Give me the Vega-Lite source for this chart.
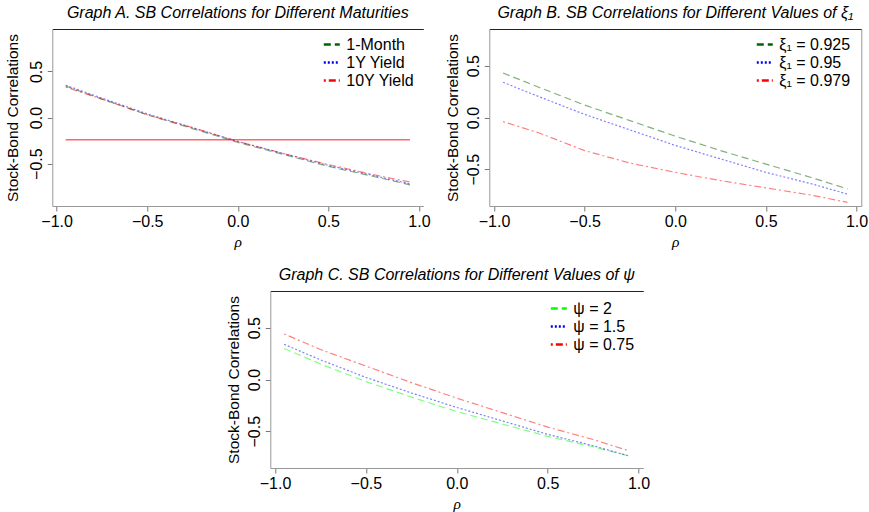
{
  "$schema": "https://vega.github.io/schema/vega-lite/v6.json",
  "padding": {"left": 5, "top": 5, "right": 0, "bottom": 0},
  "config": {
    "view": {"stroke": null},
    "font": "Liberation Sans",
    "axis": {"grid": false, "labelFont": "Liberation Sans", "labelFontSize": 16, "labelColor": "#000", "tickColor": "#777", "domainColor": "#999", "tickSize": 5, "titleFont": "Liberation Sans", "titleFontSize": 15.5, "titleFontWeight": "normal", "titleColor": "#000"},
    "title": {"font": "Liberation Sans", "fontStyle": "italic", "fontWeight": "normal", "fontSize": 16, "color": "#000", "offset": 8, "anchor": "middle"},
    "legend": {"labelFont": "Liberation Sans", "labelFontSize": 16, "labelColor": "#000", "symbolType": "stroke", "symbolSize": 256, "symbolStrokeWidth": 2.5, "symbolOpacity": 1, "rowPadding": -1.5, "labelOffset": 5, "orient": "none", "title": null}
  },
  "datasets": {
    "A": [
      {"rho": -0.95, "corr": 0.34, "series": "1-Month"},
      {"rho": -0.75, "corr": 0.2, "series": "1-Month"},
      {"rho": -0.5, "corr": 0.03, "series": "1-Month"},
      {"rho": -0.25, "corr": -0.12, "series": "1-Month"},
      {"rho": 0, "corr": -0.27, "series": "1-Month"},
      {"rho": 0.25, "corr": -0.4, "series": "1-Month"},
      {"rho": 0.5, "corr": -0.53, "series": "1-Month"},
      {"rho": 0.75, "corr": -0.64, "series": "1-Month"},
      {"rho": 0.95, "corr": -0.73, "series": "1-Month"},
      {"rho": -0.95, "corr": 0.35, "series": "1Y Yield"},
      {"rho": -0.75, "corr": 0.21, "series": "1Y Yield"},
      {"rho": -0.5, "corr": 0.04, "series": "1Y Yield"},
      {"rho": -0.25, "corr": -0.11, "series": "1Y Yield"},
      {"rho": 0, "corr": -0.26, "series": "1Y Yield"},
      {"rho": 0.25, "corr": -0.39, "series": "1Y Yield"},
      {"rho": 0.5, "corr": -0.52, "series": "1Y Yield"},
      {"rho": 0.75, "corr": -0.63, "series": "1Y Yield"},
      {"rho": 0.95, "corr": -0.72, "series": "1Y Yield"},
      {"rho": -0.95, "corr": 0.33, "series": "10Y Yield"},
      {"rho": -0.75, "corr": 0.2, "series": "10Y Yield"},
      {"rho": -0.5, "corr": 0.03, "series": "10Y Yield"},
      {"rho": -0.25, "corr": -0.11, "series": "10Y Yield"},
      {"rho": 0, "corr": -0.26, "series": "10Y Yield"},
      {"rho": 0.25, "corr": -0.39, "series": "10Y Yield"},
      {"rho": 0.5, "corr": -0.51, "series": "10Y Yield"},
      {"rho": 0.75, "corr": -0.62, "series": "10Y Yield"},
      {"rho": 0.95, "corr": -0.7, "series": "10Y Yield"}
    ],
    "Ah": [
      {"rho": -0.95, "corr": -0.24},
      {"rho": 0.95, "corr": -0.24}
    ],
    "B": [
      {"rho": -0.95, "corr": 0.43, "series": "ξ₁ = 0.925"},
      {"rho": -0.75, "corr": 0.29, "series": "ξ₁ = 0.925"},
      {"rho": -0.5, "corr": 0.12, "series": "ξ₁ = 0.925"},
      {"rho": -0.25, "corr": -0.03, "series": "ξ₁ = 0.925"},
      {"rho": 0, "corr": -0.18, "series": "ξ₁ = 0.925"},
      {"rho": 0.25, "corr": -0.32, "series": "ξ₁ = 0.925"},
      {"rho": 0.5, "corr": -0.45, "series": "ξ₁ = 0.925"},
      {"rho": 0.75, "corr": -0.58, "series": "ξ₁ = 0.925"},
      {"rho": 0.95, "corr": -0.69, "series": "ξ₁ = 0.925"},
      {"rho": -0.95, "corr": 0.34, "series": "ξ₁ = 0.95"},
      {"rho": -0.75, "corr": 0.2, "series": "ξ₁ = 0.95"},
      {"rho": -0.5, "corr": 0.03, "series": "ξ₁ = 0.95"},
      {"rho": -0.25, "corr": -0.12, "series": "ξ₁ = 0.95"},
      {"rho": 0, "corr": -0.27, "series": "ξ₁ = 0.95"},
      {"rho": 0.25, "corr": -0.4, "series": "ξ₁ = 0.95"},
      {"rho": 0.5, "corr": -0.53, "series": "ξ₁ = 0.95"},
      {"rho": 0.75, "corr": -0.64, "series": "ξ₁ = 0.95"},
      {"rho": 0.95, "corr": -0.74, "series": "ξ₁ = 0.95"},
      {"rho": -0.95, "corr": -0.04, "series": "ξ₁ = 0.979"},
      {"rho": -0.75, "corr": -0.15, "series": "ξ₁ = 0.979"},
      {"rho": -0.5, "corr": -0.32, "series": "ξ₁ = 0.979"},
      {"rho": -0.25, "corr": -0.44, "series": "ξ₁ = 0.979"},
      {"rho": 0, "corr": -0.53, "series": "ξ₁ = 0.979"},
      {"rho": 0.25, "corr": -0.61, "series": "ξ₁ = 0.979"},
      {"rho": 0.5, "corr": -0.68, "series": "ξ₁ = 0.979"},
      {"rho": 0.75, "corr": -0.75, "series": "ξ₁ = 0.979"},
      {"rho": 0.95, "corr": -0.82, "series": "ξ₁ = 0.979"}
    ],
    "C": [
      {"rho": -0.95, "corr": 0.3, "series": "ψ = 2"},
      {"rho": -0.75, "corr": 0.15, "series": "ψ = 2"},
      {"rho": -0.5, "corr": -0.02, "series": "ψ = 2"},
      {"rho": -0.25, "corr": -0.17, "series": "ψ = 2"},
      {"rho": 0, "corr": -0.31, "series": "ψ = 2"},
      {"rho": 0.25, "corr": -0.43, "series": "ψ = 2"},
      {"rho": 0.5, "corr": -0.55, "series": "ψ = 2"},
      {"rho": 0.75, "corr": -0.65, "series": "ψ = 2"},
      {"rho": 0.95, "corr": -0.74, "series": "ψ = 2"},
      {"rho": -0.95, "corr": 0.34, "series": "ψ = 1.5"},
      {"rho": -0.75, "corr": 0.19, "series": "ψ = 1.5"},
      {"rho": -0.5, "corr": 0.02, "series": "ψ = 1.5"},
      {"rho": -0.25, "corr": -0.13, "series": "ψ = 1.5"},
      {"rho": 0, "corr": -0.27, "series": "ψ = 1.5"},
      {"rho": 0.25, "corr": -0.4, "series": "ψ = 1.5"},
      {"rho": 0.5, "corr": -0.53, "series": "ψ = 1.5"},
      {"rho": 0.75, "corr": -0.64, "series": "ψ = 1.5"},
      {"rho": 0.95, "corr": -0.74, "series": "ψ = 1.5"},
      {"rho": -0.95, "corr": 0.44, "series": "ψ = 0.75"},
      {"rho": -0.75, "corr": 0.29, "series": "ψ = 0.75"},
      {"rho": -0.5, "corr": 0.13, "series": "ψ = 0.75"},
      {"rho": -0.25, "corr": -0.03, "series": "ψ = 0.75"},
      {"rho": 0, "corr": -0.18, "series": "ψ = 0.75"},
      {"rho": 0.25, "corr": -0.32, "series": "ψ = 0.75"},
      {"rho": 0.5, "corr": -0.46, "series": "ψ = 0.75"},
      {"rho": 0.75, "corr": -0.58, "series": "ψ = 0.75"},
      {"rho": 0.95, "corr": -0.69, "series": "ψ = 0.75"}
    ]
  },
  "vconcat": [
    {
      "hconcat": [
        {
          "width": 371, "height": 177,
          "title": {"text": "Graph A. SB Correlations for Different Maturities"},
          "encoding": {
            "y": {"field": "corr", "type": "quantitative", "scale": {"domain": [-0.96, 0.96], "nice": false, "zero": false},
                  "axis": {"values": [-0.5, 0, 0.5], "format": ".1f", "labelAngle": 270, "labelAlign": "center", "labelBaseline": "bottom", "labelPadding": 3, "title": "Stock-Bond Correlations", "titlePadding": 8}}
          },
          "layer": [
            {
              "data": {"name": "A"},
              "mark": {"type": "line", "strokeWidth": 1.2, "opacity": 0.5},
              "encoding": {
                "x": {"field": "rho", "type": "quantitative", "scale": {"domain": [-1.024, 1.024], "nice": false, "zero": false},
                      "axis": {"values": [-1, -0.5, 0, 0.5, 1], "format": ".1f", "title": "ρ", "titleFont": "Liberation Serif", "titleFontStyle": "italic", "titlePadding": 5}},
                "color": {"field": "series", "type": "nominal", "scale": {"domain": ["1-Month", "1Y Yield", "10Y Yield"], "range": ["#006400", "#0000ff", "#ff0000"]},
                          "legend": {"legendX": 270, "legendY": 6}},
                "strokeDash": {"field": "series", "type": "nominal", "scale": {"domain": ["1-Month", "1Y Yield", "10Y Yield"], "range": [[7, 4], [2, 2], [2, 3, 7, 3]]},
                          "legend": {"legendX": 270, "legendY": 6}}
              }
            },
            {
              "data": {"name": "Ah"},
              "mark": {"type": "line", "color": "#ff0000", "strokeWidth": 1.5, "opacity": 0.6},
              "encoding": {
                "x": {"field": "rho", "type": "quantitative", "axis": {"orient": "top", "labels": false, "ticks": false, "title": null, "domainColor": "#222"}}
              }
            }
          ],
          "resolve": {"axis": {"x": "independent"}}
        },
        {
          "width": 372, "height": 177,
          "title": {"text": "Graph B. SB Correlations for Different Values of ξ₁"},
          "layer": [
            {
              "data": {"name": "B"},
              "mark": {"type": "line", "strokeWidth": 1.2, "opacity": 0.5},
              "encoding": {
                "x": {"field": "rho", "type": "quantitative", "scale": {"domain": [-1.026, 1.026], "nice": false, "zero": false},
                      "axis": {"values": [-1, -0.5, 0, 0.5, 1], "format": ".1f", "title": "ρ", "titleFont": "Liberation Serif", "titleFontStyle": "italic", "titlePadding": 5}},
                "y": {"field": "corr", "type": "quantitative", "scale": {"domain": [-0.855, 0.855], "nice": false, "zero": false},
                      "axis": {"values": [-0.5, 0, 0.5], "format": ".1f", "labelAngle": 270, "labelAlign": "center", "labelBaseline": "bottom", "labelPadding": 3, "title": "Stock-Bond Correlations", "titlePadding": 5}},
                "color": {"field": "series", "type": "nominal", "scale": {"domain": ["ξ₁ = 0.925", "ξ₁ = 0.95", "ξ₁ = 0.979"], "range": ["#006400", "#0000ff", "#ff0000"]},
                          "legend": {"legendX": 266, "legendY": 6}},
                "strokeDash": {"field": "series", "type": "nominal", "scale": {"domain": ["ξ₁ = 0.925", "ξ₁ = 0.95", "ξ₁ = 0.979"], "range": [[7, 4], [2, 2], [2, 3, 7, 3]]},
                          "legend": {"legendX": 266, "legendY": 6}}
              }
            },
            {
              "data": {"name": "B"},
              "mark": {"type": "line", "opacity": 0},
              "encoding": {
                "x": {"field": "rho", "type": "quantitative", "axis": {"orient": "top", "labels": false, "ticks": false, "title": null, "domainColor": "#222"}},
                "y": {"field": "corr", "type": "quantitative", "axis": {"orient": "right", "labels": false, "ticks": false, "title": null, "domainColor": "#999"}},
                "detail": {"field": "series"}
              }
            }
          ],
          "resolve": {"axis": {"x": "independent", "y": "independent"}}
        }
      ],
      "spacing": 15,
      "resolve": {"scale": {"x": "independent", "y": "independent", "color": "independent", "strokeDash": "independent"}, "legend": {"color": "independent", "strokeDash": "independent"}}
    },
    {
      "width": 373, "height": 177,
      "title": {"text": "Graph C. SB Correlations for Different Values of ψ"},
      "encoding": {
        "y": {"field": "corr", "type": "quantitative", "scale": {"domain": [-0.855, 0.855], "nice": false, "zero": false},
              "axis": {"values": [-0.5, 0, 0.5], "format": ".1f", "labelAngle": 270, "labelAlign": "center", "labelBaseline": "bottom", "labelPadding": 3, "title": "Stock-Bond Correlations", "titlePadding": 5}}
      },
      "layer": [
        {
          "data": {"name": "C"},
          "mark": {"type": "line", "strokeWidth": 1.2, "opacity": 0.5},
          "encoding": {
            "x": {"field": "rho", "type": "quantitative", "scale": {"domain": [-1.026, 1.026], "nice": false, "zero": false},
                  "axis": {"values": [-1, -0.5, 0, 0.5, 1], "format": ".1f", "title": "ρ", "titleFont": "Liberation Serif", "titleFontStyle": "italic", "titlePadding": 5}},
            "color": {"field": "series", "type": "nominal", "scale": {"domain": ["ψ = 2", "ψ = 1.5", "ψ = 0.75"], "range": ["#00ff00", "#0000ff", "#ff0000"]},
                      "legend": {"legendX": 279, "legendY": 8}},
            "strokeDash": {"field": "series", "type": "nominal", "scale": {"domain": ["ψ = 2", "ψ = 1.5", "ψ = 0.75"], "range": [[7, 4], [2, 2], [2, 3, 7, 3]]},
                      "legend": {"legendX": 279, "legendY": 8}}
          }
        },
        {
          "data": {"name": "C"},
          "mark": {"type": "line", "opacity": 0},
          "encoding": {
            "x": {"field": "rho", "type": "quantitative", "axis": {"orient": "top", "labels": false, "ticks": false, "title": null, "domainColor": "#222"}},
            "detail": {"field": "series"}
          }
        }
      ],
      "resolve": {"axis": {"x": "independent"}}
    }
  ],
  "spacing": 17,
  "center": true,
  "resolve": {"scale": {"x": "independent", "y": "independent", "color": "independent", "strokeDash": "independent"}, "legend": {"color": "independent", "strokeDash": "independent"}}
}
